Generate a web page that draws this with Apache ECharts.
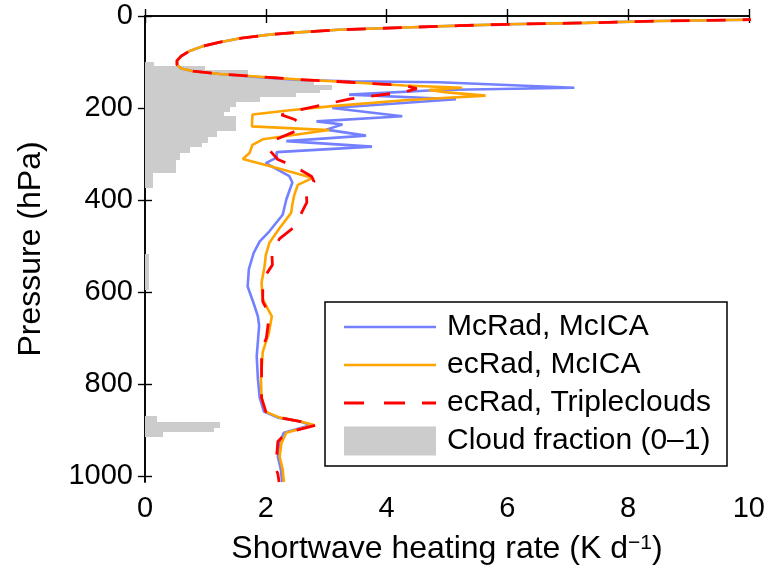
<!DOCTYPE html>
<html>
<head>
<meta charset="utf-8">
<script src="https://cdn.jsdelivr.net/npm/echarts@6/dist/echarts.min.js"></script>
<style>html,body{margin:0;padding:0;background:#fff;}#c{width:768px;height:576px;}</style>
</head>
<body>
<div id="c"></div>
<script>
// Shared upper-atmosphere part of all three heating-rate profiles
var topHR = [12.0, 10.0, 8.5, 7.3, 6.0, 5.2, 4.3, 3.2, 2.6, 2.1, 1.6, 1.24, 0.95, 0.74, 0.6, 0.53, 0.53, 0.6, 0.8, 1.24];
var topP  = [4, 8, 11, 15, 18, 21, 25, 30, 35, 40, 48, 57, 66, 76, 87, 97, 106, 114, 120, 126];

// McRad, McICA (below the shared part)
var mcradHR = [1.9, 2.56, 3.4, 4.87, 7.11, 4.87, 3.38, 5.15, 3.1, 4.26, 2.84, 3.27, 3.0, 3.66, 2.34, 3.76, 2.18, 2.18, 2.0, 2.39, 2.44, 2.34, 2.28, 2.06, 1.9, 1.8, 1.72, 1.7, 1.8, 1.87, 1.89, 1.85, 1.87, 1.9, 1.97, 2.2, 2.55, 2.75, 2.3, 2.22, 2.2, 2.25, 2.27];
var mcradP  = [133, 139, 142, 144, 156, 161, 171, 181, 200, 218, 229, 236, 247, 260, 272, 284, 296, 308, 320, 348, 362, 399, 432, 468, 490, 515, 550, 588, 625, 653, 673, 740, 790, 830, 860, 873, 881, 889, 906, 928, 958, 986, 1013];

// ecRad, McICA
var ecMcicaHR = [1.9, 2.56, 3.4, 4.3, 5.25, 4.7, 5.0, 5.64, 4.3, 3.1, 2.4, 1.78, 1.77, 3.05, 1.95, 1.78, 1.73, 1.62, 2.2, 2.78, 2.53, 2.47, 2.44, 2.42, 2.23, 2.06, 2.0, 1.98, 1.93, 1.95, 2.1, 2.05, 1.95, 1.92, 1.93, 2.0, 2.23, 2.56, 2.8, 2.34, 2.26, 2.23, 2.28, 2.3];
var ecMcicaP  = [132, 138, 144, 151, 156, 161, 166, 173, 183, 196, 205, 214, 240, 248, 268, 280, 298, 311, 331, 352, 367, 390, 410, 428, 461, 493, 520, 544, 580, 616, 653, 690, 730, 790, 830, 860, 873, 881, 889, 906, 928, 958, 986, 1013];

// ecRad, Tripleclouds
var ecTripHR = [1.9, 2.56, 3.4, 4.3, 4.5, 4.3, 3.4, 2.6, 2.26, 2.48, 2.6, 2.48, 2.1, 2.05, 2.2, 2.48, 2.76, 2.8, 2.67, 2.68, 2.6, 2.48, 2.23, 2.1, 2.11, 1.95, 1.95, 2.06, 2.01, 1.93, 1.93, 1.93, 2.0, 2.23, 2.56, 2.84, 2.34, 2.2, 2.18, 2.15, 2.2, 2.22];
var ecTripP  = [132, 138, 144, 151, 158, 165, 180, 203, 215, 225, 238, 251, 272, 290, 312, 327, 349, 360, 381, 405, 426, 458, 484, 513, 541, 573, 621, 649, 700, 725, 780, 830, 860, 873, 881, 889, 906, 925, 958, 980, 995, 1013];

// Cloud fraction layers: top pressure, bottom pressure, fraction (0-1)
var cloudTop  = [100, 108, 118, 130, 140, 150, 160, 168, 176, 186, 198, 208, 218, 250, 262, 275, 285, 298, 312, 342, 518, 870, 882, 896, 904];
var cloudBot  = [108, 118, 130, 140, 150, 160, 168, 176, 186, 198, 208, 218, 250, 262, 275, 285, 298, 312, 342, 374, 595, 882, 896, 904, 915];
var cloudFrac = [0.015, 0.10, 0.17, 0.22, 0.28, 0.31, 0.29, 0.25, 0.19, 0.15, 0.14, 0.13, 0.15, 0.12, 0.105, 0.095, 0.075, 0.058, 0.052, 0.014, 0.007, 0.02, 0.124, 0.115, 0.03];

var xTicks = [0, 2, 4, 6, 8, 10];
var yTicks = [0, 200, 400, 600, 800, 1000];

function pairs(hr, p) { var out = []; for (var i = 0; i < hr.length; i++) out.push([hr[i], p[i]]); return out; }
var mcrad = pairs(topHR.concat(mcradHR), topP.concat(mcradP));
var ecMcica = pairs(topHR.concat(ecMcicaHR), topP.concat(ecMcicaP));
var ecTrip = pairs(topHR.concat(ecTripHR), topP.concat(ecTripP));
var cloud = [];
for (var i = 0; i < cloudTop.length; i++) cloud.push([cloudTop[i], cloudBot[i], cloudFrac[i] * 10]);

var FONT = '"Liberation Sans", Arial, Helvetica, sans-serif';
// legend icons: thin line / dashed line inside a 92x29 box (corner dots fix the bounding box)
var BOX = 'M0,0h0.01v0.01h-0.01z M92,29h-0.01v-0.01h0.01z ';
var solidIcon = 'path://' + BOX + 'M0,13.2h92v2.6h-92z';
var dashIcon = 'path://' + BOX + 'M0,13.1h20v2.8h-20z M40,13.1h21v2.8h-21z M78,13.1h14v2.8h-14z';

var chart = echarts.init(document.getElementById('c'), null, {renderer: 'canvas'});
function axisCommon(showLabels, ticks) {
  return {
    axisLine: {show: true, lineStyle: {color: '#000', width: 1.6}},
    axisTick: {show: true, inside: false, length: -7, customValues: ticks, lineStyle: {color: '#000', width: 1.4}},
    splitLine: {show: false},
    axisLabel: {show: showLabels, customValues: ticks, color: '#000', fontSize: 29, fontFamily: FONT,
      formatter: function (v) { return String(v); }}
  };
}
var xa0 = Object.assign(axisCommon(true, xTicks), {
  type: 'value', min: 0, max: 10, interval: 2, position: 'bottom',
  name: 'Shortwave heating rate (K d{sup|−1})', nameLocation: 'middle', nameGap: 51,
  nameTextStyle: {color: '#000', fontSize: 32, fontFamily: FONT,
    rich: {sup: {fontSize: 21, fontFamily: FONT, color: '#000', verticalAlign: 'top', lineHeight: 14}}}
});
xa0.axisLabel.margin = 12;
var xa1 = Object.assign(axisCommon(false, xTicks), {type: 'value', min: 0, max: 10, interval: 2, position: 'top'});
var ya0 = Object.assign(axisCommon(true, yTicks), {
  type: 'value', inverse: true, min: 0, max: 1013, interval: 200, position: 'left',
  name: 'Pressure (hPa)', nameLocation: 'middle', nameGap: 98, nameRotate: 90,
  nameTextStyle: {color: '#000', fontSize: 32, fontFamily: FONT}
});
ya0.axisLabel.margin = 12;
var ya1 = Object.assign(axisCommon(false, yTicks), {type: 'value', inverse: true, min: 0, max: 1013, interval: 200, position: 'right'});

chart.setOption({
  animation: false,
  backgroundColor: '#fff',
  grid: {left: 145, right: 17, top: 16, bottom: 94, containLabel: false},
  xAxis: [xa0, xa1],
  yAxis: [ya0, ya1],
  legend: {
    orient: 'vertical', left: 325, top: 302,
    backgroundColor: '#fff', borderColor: '#000', borderWidth: 1.5, borderRadius: 0,
    padding: [10, 16, 10, 19], itemWidth: 92, itemHeight: 29, itemGap: 8,
    textStyle: {color: '#000', fontSize: 30, fontFamily: FONT, padding: [0, 0, 0, 6]},
    data: [
      {name: 'McRad, McICA', icon: solidIcon},
      {name: 'ecRad, McICA', icon: solidIcon},
      {name: 'ecRad, Tripleclouds', icon: dashIcon},
      {name: 'Cloud fraction (0–1)', icon: 'rect'}
    ]
  },
  series: [
    {
      name: 'Cloud fraction (0–1)', type: 'custom', xAxisIndex: 0, yAxisIndex: 0,
      itemStyle: {color: '#cccccc'}, data: cloud, encode: {x: 2, y: [0, 1]}, z: 1,
      renderItem: function (params, api) {
        var a = api.coord([0, api.value(0)]);
        var b = api.coord([api.value(2), api.value(1)]);
        var x0 = Math.round(a[0]), y0 = Math.round(a[1]), x1 = Math.round(b[0]), y1 = Math.round(b[1]);
        return {type: 'rect', shape: {x: x0, y: y0, width: x1 - x0, height: y1 - y0},
          style: {fill: '#cccccc'}};
      }
    },
    {name: 'McRad, McICA', type: 'line', data: mcrad, symbol: 'none', showSymbol: false, clip: true, z: 3,
      lineStyle: {color: '#7380ff', width: 2.6}, itemStyle: {color: '#7380ff'}},
    {name: 'ecRad, McICA', type: 'line', data: ecMcica, symbol: 'none', showSymbol: false, clip: true, z: 4,
      lineStyle: {color: '#ffa500', width: 2.6}, itemStyle: {color: '#ffa500'}},
    {name: 'ecRad, Tripleclouds', type: 'line', data: ecTrip, symbol: 'none', showSymbol: false, clip: true, z: 5,
      lineStyle: {color: '#ff0000', width: 2.8, type: [19, 17]}, itemStyle: {color: '#ff0000'}}
  ]
});
</script>
</body>
</html>
